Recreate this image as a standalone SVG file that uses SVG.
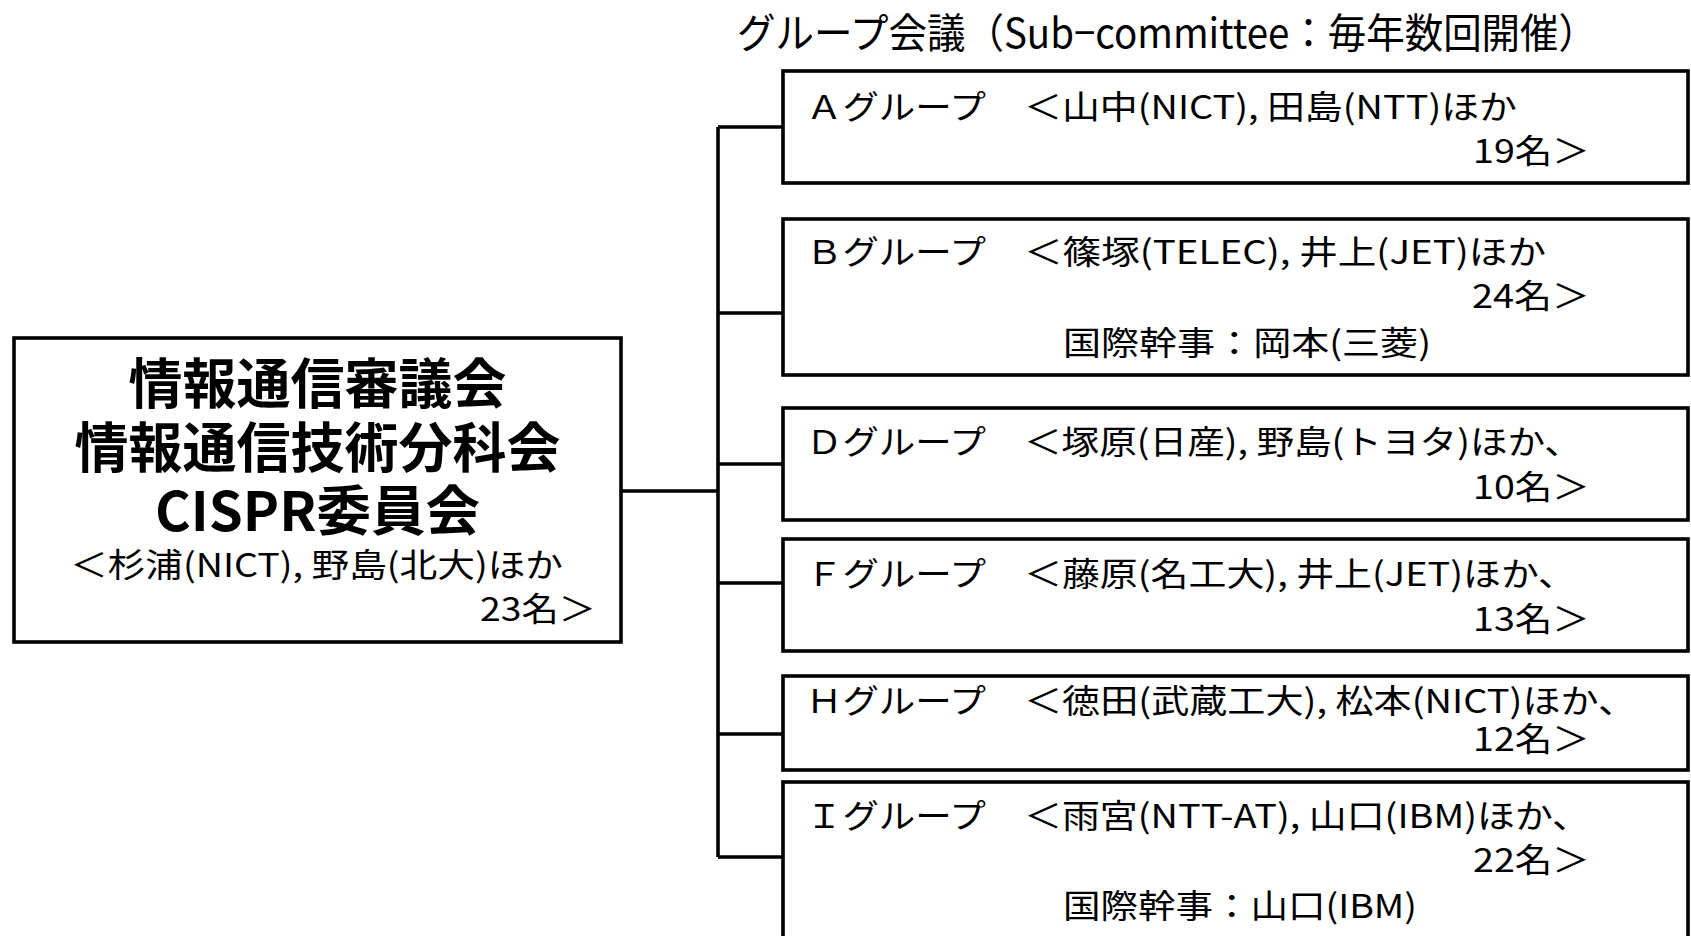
<svg xmlns="http://www.w3.org/2000/svg" width="1691" height="936" viewBox="0 0 1691 936">
<style>
.box{fill:#fff;stroke:#000;stroke-width:3.6}
.conn{fill:none;stroke:#000;stroke-width:3.6}
text{font-family:"Noto Sans CJK JP","Liberation Sans",sans-serif;fill:#000;dominant-baseline:central}
.t{font-size:33px}
.ttl{font-size:54px;font-weight:bold}
.hd{font-size:41px}
</style>
<rect width="1691" height="936" fill="#fff"/>
<text class="hd" x="737" y="30" textLength="860" lengthAdjust="spacingAndGlyphs">グループ会議（Sub−committee：毎年数回開催）</text>
<g id="connectors">
<path class="conn" d="M621 491H718M718 127V857M718 127H783M718 313H783M718 464H783M718 583H783M718 734H783M718 857H783"/>
</g>
<g id="main">
<rect class="box" x="14" y="338" width="607" height="304"/>
<text class="ttl" x="317.5" y="380" text-anchor="middle">情報通信審議会</text>
<text class="ttl" x="317.5" y="444" text-anchor="middle">情報通信技術分科会</text>
<text class="ttl" x="317.5" y="507" text-anchor="middle" textLength="325" lengthAdjust="spacingAndGlyphs">CISPR委員会</text>
<text class="t" x="70" y="563" textLength="493" lengthAdjust="spacingAndGlyphs">＜杉浦(NICT), 野島(北大)ほか</text>
<text class="t" x="480" y="607" textLength="116" lengthAdjust="spacingAndGlyphs">23名＞</text>
</g>
<g id="groupA">
<rect class="box" x="783" y="71" width="905" height="112"/>
<text class="t" x="806" y="105" textLength="180" lengthAdjust="spacingAndGlyphs">Ａグループ</text>
<text class="t" x="1024" y="105" textLength="493" lengthAdjust="spacingAndGlyphs">＜山中(NICT), 田島(NTT)ほか</text>
<text class="t" x="1473" y="149" textLength="117" lengthAdjust="spacingAndGlyphs">19名＞</text>
</g>
<g id="groupB">
<rect class="box" x="783" y="219" width="905" height="156"/>
<text class="t" x="806" y="250" textLength="180" lengthAdjust="spacingAndGlyphs">Ｂグループ</text>
<text class="t" x="1024" y="250" textLength="522" lengthAdjust="spacingAndGlyphs">＜篠塚(TELEC), 井上(JET)ほか</text>
<text class="t" x="1472" y="294" textLength="118" lengthAdjust="spacingAndGlyphs">24名＞</text>
<text class="t" x="1063" y="341" textLength="368" lengthAdjust="spacingAndGlyphs">国際幹事：岡本(三菱)</text>
</g>
<g id="groupD">
<rect class="box" x="783" y="408" width="905" height="112"/>
<text class="t" x="806" y="440" textLength="180" lengthAdjust="spacingAndGlyphs">Ｄグループ</text>
<text class="t" x="1024" y="440" textLength="558" lengthAdjust="spacingAndGlyphs">＜塚原(日産), 野島(トヨタ)ほか、</text>
<text class="t" x="1473" y="485" textLength="117" lengthAdjust="spacingAndGlyphs">10名＞</text>
</g>
<g id="groupF">
<rect class="box" x="783" y="539" width="905" height="112"/>
<text class="t" x="806" y="572" textLength="180" lengthAdjust="spacingAndGlyphs">Ｆグループ</text>
<text class="t" x="1024" y="572" textLength="552" lengthAdjust="spacingAndGlyphs">＜藤原(名工大), 井上(JET)ほか、</text>
<text class="t" x="1473" y="617" textLength="117" lengthAdjust="spacingAndGlyphs">13名＞</text>
</g>
<g id="groupH">
<rect class="box" x="783" y="676" width="905" height="94"/>
<text class="t" x="806" y="699" textLength="180" lengthAdjust="spacingAndGlyphs">Ｈグループ</text>
<text class="t" x="1024" y="699" textLength="612" lengthAdjust="spacingAndGlyphs">＜徳田(武蔵工大), 松本(NICT)ほか、</text>
<text class="t" x="1473" y="737" textLength="117" lengthAdjust="spacingAndGlyphs">12名＞</text>
</g>
<g id="groupI">
<rect class="box" x="783" y="782" width="905" height="170"/>
<text class="t" x="806" y="814" textLength="180" lengthAdjust="spacingAndGlyphs">Ｉグループ</text>
<text class="t" x="1024" y="814" textLength="566" lengthAdjust="spacingAndGlyphs">＜雨宮(NTT-AT), 山口(IBM)ほか、</text>
<text class="t" x="1473" y="858" textLength="117" lengthAdjust="spacingAndGlyphs">22名＞</text>
<text class="t" x="1063" y="904" textLength="354" lengthAdjust="spacingAndGlyphs">国際幹事：山口(IBM)</text>
</g>
</svg>
